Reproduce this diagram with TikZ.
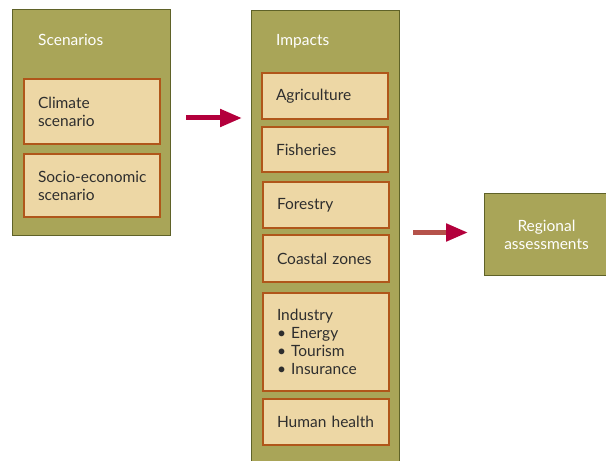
\documentclass[tikz,border=0pt]{standalone}
\usepackage{fontspec}
\setmainfont{Lato}
\usetikzlibrary{arrows.meta}
\definecolor{panelfill}{HTML}{A9A558}
\definecolor{panelline}{HTML}{5F6228}
\definecolor{itemfill}{HTML}{EDD7A5}
\definecolor{itemline}{HTML}{B0561A}
\definecolor{txt}{HTML}{2E2E2E}
\definecolor{crimson}{HTML}{B3003C}
\definecolor{rust}{HTML}{B5524A}
\begin{document}
\begin{tikzpicture}[x=1bp,y=-1bp,
  every node/.style={font=\fontsize{15.5bp}{18bp}\selectfont},
  panel/.style={draw=panelline, fill=panelfill, line width=1bp, anchor=north west, inner sep=0pt},
  item/.style={draw=itemline, fill=itemfill, line width=2bp, anchor=north west, inner xsep=14bp, inner ysep=0pt, align=left, text=txt},
  title/.style={text=white, anchor=base west, inner sep=0pt},
  arrowA/.style={draw=crimson, line width=5bp, -{Triangle[length=22bp,width=17bp,color=crimson]}},
  arrowB/.style={draw=rust, line width=5bp, -{Triangle[length=22bp,width=17bp,color=crimson]}}
]
\useasboundingbox (0,0) rectangle (606,461);
% left panel
\node[panel, minimum width=158bp, minimum height=226bp] (scen) at (12,9) {};
\node[title] (scent) at (38,46) {Scenarios};
\node[item, minimum width=136bp, minimum height=65bp, text width=108bp] (clim) at (23,78) {Climate\\scenario};
\node[item, minimum width=136bp, minimum height=63bp, text width=108bp] (socio) at (23,153) {\mbox{Socio-economic}\\scenario};
% middle panel
\node[panel, minimum width=148bp, minimum height=455bp] (imp) at (251,10) {};
\node[title] (impt) at (276,46) {Impacts};
\node[item, minimum width=126bp, minimum height=46bp, text width=98bp] (agri) at (261,72) {Agriculture};
\node[item, minimum width=126bp, minimum height=45bp, text width=98bp] (fish) at (261,126) {Fisheries};
\node[item, minimum width=126bp, minimum height=46bp, text width=98bp] (fore) at (262,181) {Forestry};
\node[item, minimum width=126bp, minimum height=47bp, text width=98bp] (coast) at (262,234) {\mbox{Coastal zones}};
\node[item, minimum width=126bp, minimum height=98bp, text width=98bp] (ind) at (262,292) {Industry\\\textbullet\ Energy\\\textbullet\ Tourism\\\textbullet\ Insurance};
\node[item, minimum width=126bp, minimum height=46bp, text width=98bp] (health) at (262,398) {\mbox{Human health}};
% right box
\node[panel, minimum width=124bp, minimum height=82bp, text=white, align=center] (reg) at (484,193) {Regional\\assessments};
% arrows
\draw[arrowA, shorten <=15bp, shorten >=9bp] ([yshift=4.5bp]scen.east) -- ([yshift=4.5bp]scen.east -| imp.west);
\draw[arrowB, shorten <=13bp, shorten >=16bp] ([yshift=2bp]reg.west -| imp.east) -- ([yshift=2bp]reg.west);
\end{tikzpicture}
\end{document}
